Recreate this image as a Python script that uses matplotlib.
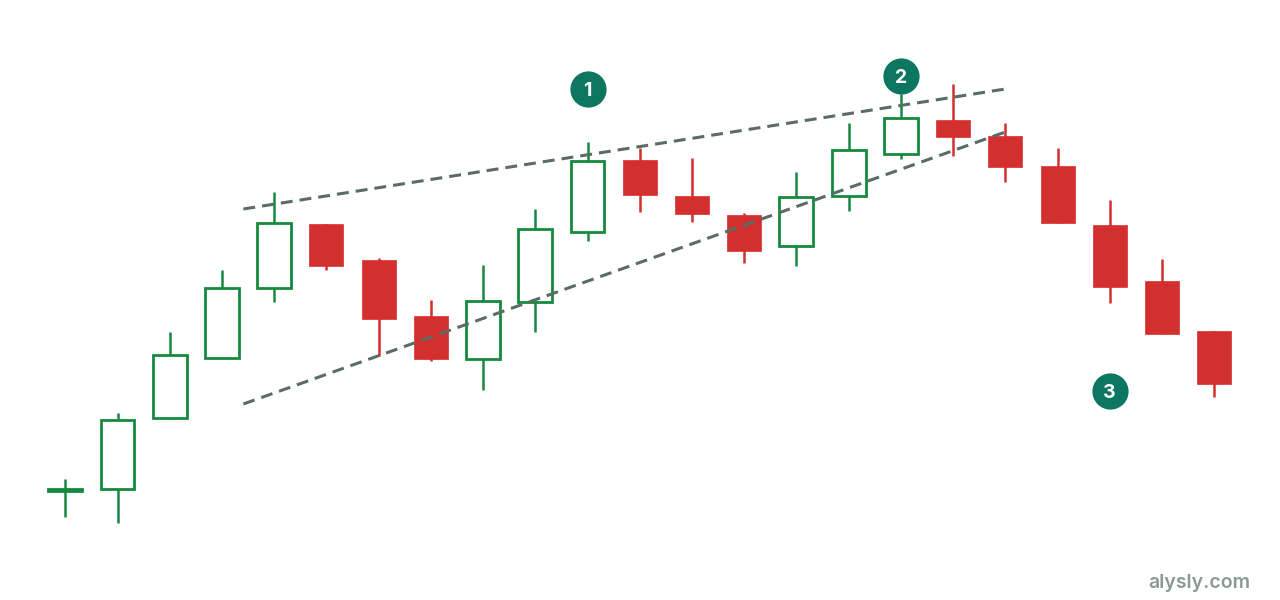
import matplotlib
matplotlib.use("Agg")
import matplotlib.pyplot as plt
from matplotlib.patches import Rectangle

# OHLC data (price units)
opens  = [109, 111, 182, 242, 312, 376, 340, 284, 241, 298, 368, 440, 404, 385, 354, 404, 446, 480, 464, 434, 375, 319, 269]
highs  = [121, 187, 268, 330, 408, 376, 342, 300, 335, 391, 458, 452, 442, 387, 428, 477, 506, 516, 477, 452, 400, 341, 269]
lows   = [83,  77,  181, 242, 298, 330, 244, 239, 210, 268, 359, 388, 378, 337, 334, 389, 441, 444, 418, 377, 297, 266, 203]
closes = [111, 180, 245, 312, 377, 334, 281, 241, 299, 371, 439, 405, 386, 349, 403, 450, 482, 463, 433, 377, 313, 266, 216]

# Trend lines (x in candle index, y in price)
upper_x = [3.41, 18.0]
upper_y = [391, 511]
lower_x = [3.41, 18.0]
lower_y = [196, 468]

# Numbered markers
marker_labels = ["1", "2", "3"]
marker_x = [10, 16, 20]
marker_y = [511, 524, 209]

GREEN = "#15893f"
RED = "#d32f2f"
LINE = "#5b6b65"
BADGE = "#0d7661"

fig = plt.figure(figsize=(12.8, 6.0), dpi=100)
ax = fig.add_axes([0, 0, 1, 1])
ax.set_xlim(-1.25, 23.26)
ax.set_ylim(0, 600)
ax.axis("off")

w = 0.65
for i, (o, h, l, c) in enumerate(zip(opens, highs, lows, closes)):
    up = c >= o
    col = GREEN if up else RED
    lo, hi = min(o, c), max(o, c)
    ax.plot([i, i], [l, h], color=col, lw=1.8, zorder=2, solid_capstyle="butt")
    if up:
        ax.add_patch(Rectangle((i - w / 2, lo), w, hi - lo, facecolor="white",
                               edgecolor=col, lw=2.0, zorder=3))
    else:
        ax.add_patch(Rectangle((i - w / 2, lo), w, hi - lo, facecolor=col,
                               edgecolor=col, lw=0.5, zorder=3))

for xs, ys in [(upper_x, upper_y), (lower_x, lower_y)]:
    ax.plot(xs, ys, color=LINE, lw=2.2, dashes=(3.9, 2.3), zorder=4)

ax.scatter(marker_x, marker_y, s=680, color=BADGE, zorder=5, linewidths=0)
for lab, x, y in zip(marker_labels, marker_x, marker_y):
    ax.text(x, y, lab, color="white", fontsize=14, fontweight="bold",
            ha="center", va="center_baseline", zorder=6, family="Inter")

fig.text(1250 / 1280, 1 - 583 / 600, "alysly.com", ha="right", va="center",
         fontsize=14, fontweight="semibold", color="#8b9995", family="Inter")

fig.savefig("out.png", dpi=100, facecolor="white")
